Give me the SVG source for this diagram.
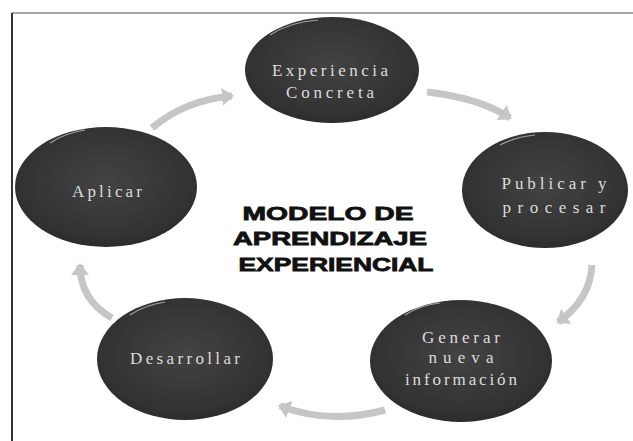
<svg xmlns="http://www.w3.org/2000/svg" width="633" height="441" viewBox="0 0 633 441">
<style>
.node{fill:url(#g)}
.hl{fill:none;stroke:#bdbdbd;stroke-width:1.2;opacity:0.8}
.lbl{font-family:"Liberation Serif","DejaVu Serif",serif;font-size:17px;fill:#dcdcdc;text-anchor:middle}
.title{font-family:"Liberation Sans","DejaVu Sans",sans-serif;font-weight:bold;font-size:19px;fill:#111;stroke:#111;stroke-width:0.8;text-anchor:middle}
.arr{fill:none;stroke:#c6c6c6;stroke-width:7;marker-end:url(#ah)}
</style>
<defs>
<radialGradient id="g" cx="50%" cy="45%" r="60%">
<stop offset="0" stop-color="#434343"/>
<stop offset="0.8" stop-color="#323232"/>
<stop offset="1" stop-color="#282828"/>
</radialGradient>
<marker id="ah" markerUnits="userSpaceOnUse" markerWidth="16" markerHeight="18" viewBox="0 0 16 18" refX="10" refY="9" orient="auto">
<path d="M0,0 L12,9 L0,18 z" fill="#c6c6c6"/>
</marker>
</defs>
<rect width="633" height="441" fill="#fff"/>
<g id="frame">
<line x1="12" y1="13" x2="633" y2="13" stroke="#8a8a8a" stroke-width="1.5"/>
<line x1="12" y1="13" x2="12" y2="441" stroke="#333" stroke-width="2"/>
</g>
<g id="connectors">
<path class="arr" d="M152,128 Q185,100 232,96"/>
<path class="arr" d="M427,92 Q480,98 510,118"/>
<path class="arr" d="M592,265 Q590,300 558,322"/>
<path class="arr" d="M385,410 Q330,425 280,406"/>
<path class="arr" d="M112,318 Q80,300 80,265"/>
</g>
<g id="experiencia">
<ellipse class="node" cx="332" cy="70" rx="87" ry="53"/>
<path class="hl" d="M270,35 Q290,22 318,20"/>
<text class="lbl" x="330" y="76" textLength="116" lengthAdjust="spacing">Experiencia</text>
<text class="lbl" x="330" y="98" textLength="88" lengthAdjust="spacing">Concreta</text>
</g>
<g id="publicar">
<ellipse class="node" cx="545" cy="190" rx="83" ry="58"/>
<path class="hl" d="M500,145 Q515,137 535,135"/>
<text class="lbl" x="554" y="189" textLength="105" lengthAdjust="spacing">Publicar y</text>
<text class="lbl" x="554" y="213" textLength="103" lengthAdjust="spacing">procesar</text>
</g>
<g id="generar">
<ellipse class="node" cx="461" cy="361" rx="91" ry="61"/>
<path class="hl" d="M405,315 Q420,305 440,303"/>
<text class="lbl" x="461" y="343" textLength="78" lengthAdjust="spacing">Generar</text>
<text class="lbl" x="461" y="363" textLength="65" lengthAdjust="spacing">nueva</text>
<text class="lbl" x="461" y="385" textLength="112" lengthAdjust="spacing">información</text>
</g>
<g id="desarrollar">
<ellipse class="node" cx="185" cy="359" rx="88" ry="61"/>
<path class="hl" d="M130,315 Q145,305 165,302"/>
<text class="lbl" x="185" y="364" textLength="110" lengthAdjust="spacing">Desarrollar</text>
</g>
<g id="aplicar">
<ellipse class="node" cx="106" cy="187" rx="91" ry="60"/>
<path class="hl" d="M50,143 Q65,133 85,130"/>
<text class="lbl" x="107" y="197" textLength="70" lengthAdjust="spacing">Aplicar</text>
</g>
<g id="title">
<text class="title" x="328" y="220" textLength="171" lengthAdjust="spacingAndGlyphs">MODELO DE</text>
<text class="title" x="330" y="245" textLength="194" lengthAdjust="spacingAndGlyphs">APRENDIZAJE</text>
<text class="title" x="336" y="271" textLength="195" lengthAdjust="spacingAndGlyphs">EXPERIENCIAL</text>
</g>
</svg>
